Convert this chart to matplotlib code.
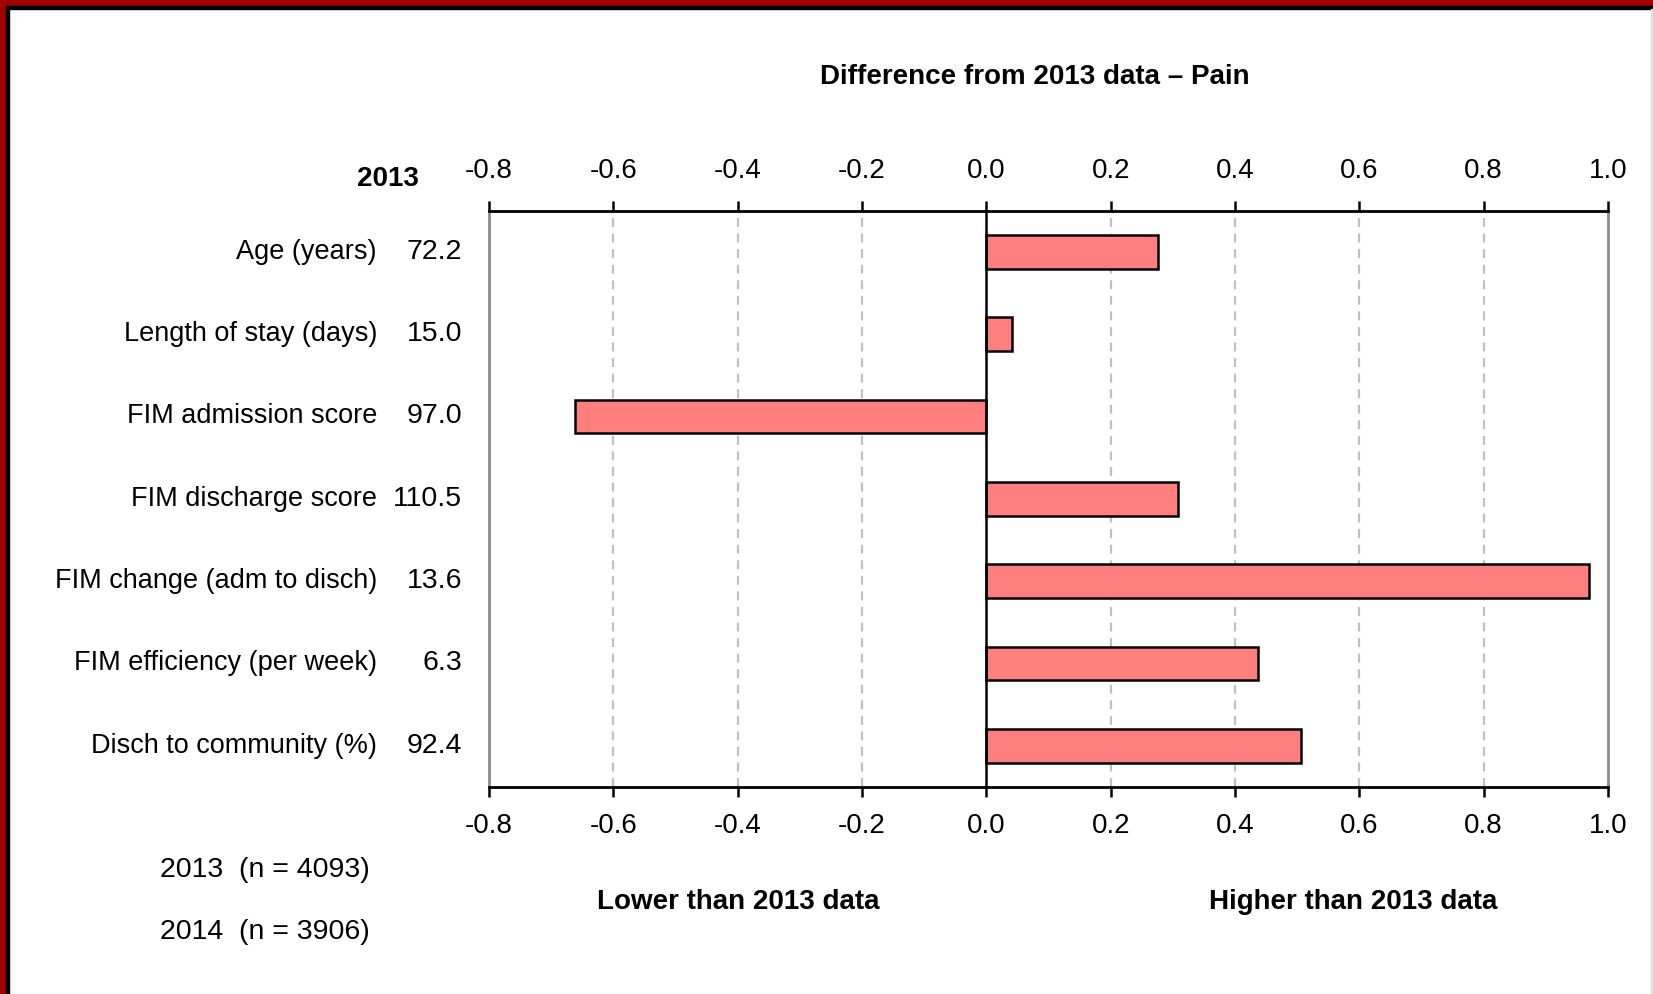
import matplotlib
matplotlib.use("Agg")
import matplotlib.pyplot as plt
from matplotlib import font_manager
from matplotlib.transforms import blended_transform_factory
from matplotlib.patches import Rectangle

names = {f.name for f in font_manager.fontManager.ttflist}
FONT = "Liberation Sans Narrow" if "Liberation Sans Narrow" in names else "Liberation Sans"
plt.rcParams['font.family'] = [FONT, 'DejaVu Sans']

categories = ["Age (years)", "Length of stay (days)", "FIM admission score",
              "FIM discharge score", "FIM change (adm to disch)",
              "FIM efficiency (per week)", "Disch to community (%)"]
values_2013 = ["72.2", "15.0", "97.0", "110.5", "13.6", "6.3", "92.4"]
differences = [0.276, 0.041, -0.661, 0.308, 0.970, 0.437, 0.506]
xticks = [-0.8, -0.6, -0.4, -0.2, 0.0, 0.2, 0.4, 0.6, 0.8, 1.0]

W, H = 1653, 994
fig = plt.figure(figsize=(W / 100, H / 100), dpi=100)
ax = fig.add_axes([489 / W, 1 - 787 / H, (1608 - 489) / W, (787 - 210.5) / H])

ypos = list(range(len(categories)))
ax.barh(ypos, differences, height=0.41, color="#FF7F7F", edgecolor="black",
        linewidth=1.8, zorder=3)
ax.set_ylim(len(categories) - 0.5, -0.5)
ax.set_xlim(-0.8, 1.0)
ax.set_xticks(xticks)
ax.set_xticklabels([f"{t:.1f}" for t in xticks])
ax.set_yticks([])
ax.tick_params(axis='x', which='both', top=True, labeltop=True, bottom=True,
               labelbottom=True, direction='out', length=7, width=1.8,
               labelsize=20, pad=12, colors='black')
for t in xticks:
    if abs(t) > 1e-9 and abs(t - 1.0) > 1e-9 and abs(t + 0.8) > 1e-9:
        ax.axvline(t, color="#C0C0C0", linestyle=(0, (4, 3)), linewidth=1.6, zorder=1)
ax.axvline(0.0, color="black", linewidth=1.8, zorder=4)
for s in ['top', 'bottom']:
    ax.spines[s].set_color('black')
    ax.spines[s].set_linewidth(2.0)
for s in ['left', 'right']:
    ax.spines[s].set_color('#8C8C8C')
    ax.spines[s].set_linewidth(2.0)

tr = blended_transform_factory(fig.transFigure, ax.transData)
for i, (c, v) in enumerate(zip(categories, values_2013)):
    ax.text(377 / W, i, c, transform=tr, ha='right', va='center', fontsize=19.5)
    ax.text(462 / W, i, v, transform=tr, ha='right', va='center', fontsize=20.5)

def ftext(x, y, s, **kw):
    fig.text(x / W, 1 - y / H, s, **kw)

ftext(1035, 77, "Difference from 2013 data \u2013 Pain", ha='center', va='center',
      fontsize=20, fontweight='bold')
ftext(419, 179, "2013", ha='right', va='center', fontsize=20, fontweight='bold')
ftext(160, 870, "2013  (n = 4093)", ha='left', va='center', fontsize=20.5)
ftext(160, 932, "2014  (n = 3906)", ha='left', va='center', fontsize=20.5)
ftext(738, 902, "Lower than 2013 data", ha='center', va='center', fontsize=20,
      fontweight='bold')
ftext(1353, 902, "Higher than 2013 data", ha='center', va='center', fontsize=20,
      fontweight='bold')

# frame border
fig.patches.append(Rectangle((0, 1 - 6 / H), 1, 6 / H, transform=fig.transFigure,
                             color="#A00000", zorder=10))
fig.patches.append(Rectangle((0, 0), 6 / W, 1, transform=fig.transFigure,
                             color="#A00000", zorder=10))
fig.patches.append(Rectangle((6 / W, 1 - 9 / H), 1 - 6 / W, 3 / H, transform=fig.transFigure,
                             color="black", zorder=10))
fig.patches.append(Rectangle((6 / W, 0), 3 / W, 1 - 6 / H, transform=fig.transFigure,
                             color="black", zorder=10))
fig.patches.append(Rectangle((1 - 2 / W, 0), 2 / W, 1 - 9 / H, transform=fig.transFigure,
                             color="#E0E0E0", zorder=10))

fig.savefig("out.png", dpi=100)
